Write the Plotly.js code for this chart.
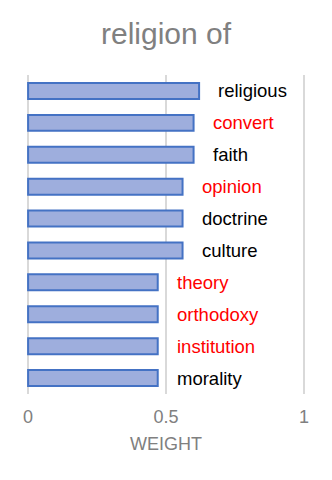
<!DOCTYPE html>
<html>
<head>
<meta charset="utf-8">
<script src="https://cdn.plot.ly/plotly-3.0.1.min.js"></script>
<style>
  html, body { margin: 0; padding: 0; background: #fff; }
  #chart { width: 332px; height: 480px; }
</style>
</head>
<body>
<div id="chart"></div>
<script>
// data
const words = ['religious', 'convert', 'faith', 'opinion', 'doctrine', 'culture', 'theory', 'orthodoxy', 'institution', 'morality'];
const weights = [0.62, 0.60, 0.60, 0.56, 0.56, 0.56, 0.47, 0.47, 0.47, 0.47];
const labelColors = ['#000000', '#ff0000', '#000000', '#ff0000', '#000000', '#000000', '#ff0000', '#ff0000', '#ff0000', '#000000'];
const tickVals = [0, 0.5, 1];
const tickText = ['0', '0.5', '1'];

const font = 'Liberation Sans, Arial, sans-serif';

// bars
const trace = {
    type: 'bar',
    orientation: 'h',
    x: weights,
    y: words,
    width: 0.5,
    marker: {
        color: '#9eaedd',
        line: { color: '#4472c4', width: 2 }
    },
    hoverinfo: 'none'
};

// word labels to the right of each bar
const annotations = words.map((w, i) => ({
    x: weights[i],
    y: w,
    xref: 'x',
    yref: 'y',
    text: w,
    showarrow: false,
    xanchor: 'left',
    xshift: 17,
    font: { family: font, size: 18.5, color: labelColors[i] }
}));

const layout = {
    width: 332,
    height: 480,
    margin: { l: 27, r: 27, t: 75, b: 86 },
    paper_bgcolor: '#ffffff',
    plot_bgcolor: '#ffffff',
    showlegend: false,
    title: {
        text: 'religion of',
        font: { family: font, size: 30, color: '#808080' },
        x: 0.5,
        xanchor: 'center',
        y: 1 - 33 / 480,
        yanchor: 'middle',
        yref: 'container'
    },
    xaxis: {
        // a hair wider than 0..1 so the edge grid lines get drawn
        range: [-0.004, 1.004],
        tickvals: tickVals,
        ticktext: tickText,
        showgrid: true,
        gridcolor: '#d9d9d9',
        gridwidth: 2,
        zeroline: false,
        showline: false,
        ticks: '',
        ticklabelstandoff: 10,
        tickfont: { family: font, size: 18, color: '#808080' },
        title: {
            text: 'WEIGHT',
            font: { family: font, size: 18, color: '#808080' },
            standoff: 11
        },
        fixedrange: true
    },
    yaxis: {
        categoryorder: 'array',
        categoryarray: words,
        autorange: 'reversed',
        showticklabels: false,
        showgrid: false,
        zeroline: false,
        showline: false,
        ticks: '',
        fixedrange: true
    },
    annotations: annotations
};

Plotly.newPlot('chart', [trace], layout, { displayModeBar: false, staticPlot: true });
</script>
</body>
</html>
